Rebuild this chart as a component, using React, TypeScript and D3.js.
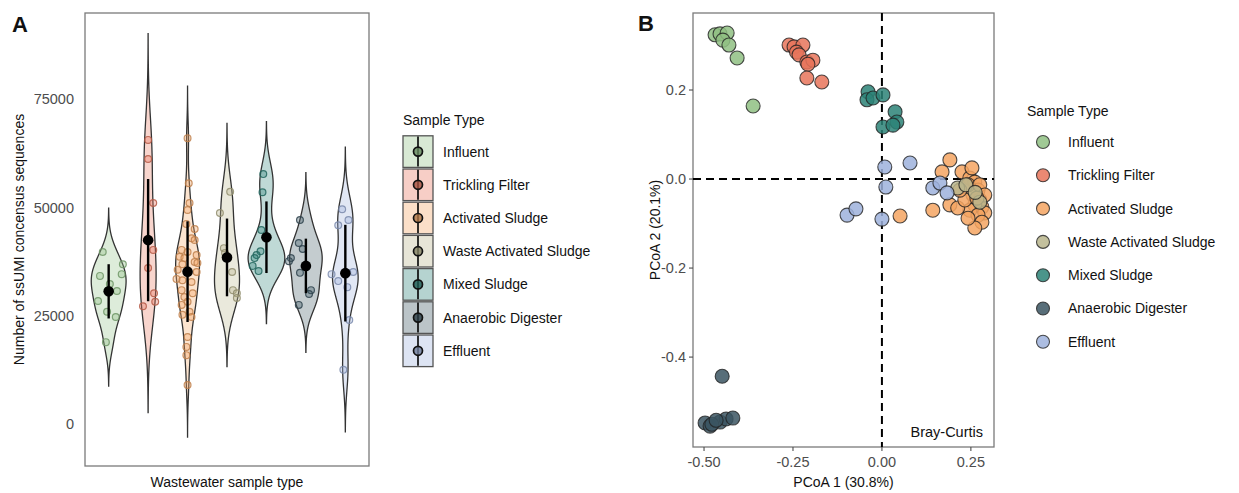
import React from "react";
import * as d3 from "d3";

const W = 1239;
const H = 493;
const FONT = "'Liberation Sans', Arial, Helvetica, sans-serif";

const sampleTypes = [
  "Influent",
  "Trickling Filter",
  "Activated Sludge",
  "Waste Activated Sludge",
  "Mixed Sludge",
  "Anaerobic Digester",
  "Effluent",
];
const typeColors = ["#8fbf83", "#e8745b", "#f4a461", "#b9b58c", "#2b8277", "#3b5561", "#9db1dc"];

// panel A: ssUMI consensus reads per sample, and horizontal jitter (category units)
const influentReads = [39700, 36900, 34200, 34600, 32300, 30700, 28400, 25900, 24700, 18900];
const influentJitter = [-0.15, 0.36, -0.22, 0.33, 0.03, 0.21, -0.27, -0.04, 0.18, -0.07];
const tricklingReads = [65600, 61200, 51000, 42500, 40200, 36000, 30200, 28200, 27200];
const tricklingJitter = [0, 0, 0.13, 0.02, 0.13, 0, 0.15, 0.18, -0.13];
const activatedReads = [
  66000, 55600, 51000, 49400, 46200, 45000, 42900, 42500, 40200, 39700, 39000, 38600, 38300,
  37400, 37200, 36900, 35600, 35100, 33500, 33200, 32800, 30900, 30200, 29300, 28200, 27500,
  25900, 25200, 24700, 20100, 17800, 15900, 9000,
];
const activatedJitter = [
  0, 0.03, 0.05, 0, -0.03, 0.18, 0.1, 0.18, -0.15, 0, 0.23, -0.2, -0.08, 0.18, 0.25, -0.13,
  -0.25, 0.23, -0.28, -0.13, 0.1, -0.15, 0.13, -0.08, 0, -0.15, 0.05, -0.13, 0.1, 0, -0.03,
  -0.03, 0,
];
const wasteReads = [53600, 48700, 40600, 39500, 35100, 30900, 30200, 29100];
const wasteJitter = [0.08, -0.18, -0.08, -0.05, 0.13, 0.15, 0.25, 0.25];
const mixedReads = [57700, 53500, 44800, 39900, 39000, 38300, 36500, 35300];
const mixedJitter = [-0.08, -0.1, -0.13, -0.15, -0.25, -0.3, -0.35, -0.2];
const anaerobicReads = [47100, 41800, 40400, 38300, 37600, 34900, 30900, 30000, 27500];
const anaerobicJitter = [-0.15, -0.18, -0.08, -0.38, -0.43, -0.15, 0.13, 0.08, -0.18];
const effluentReads = [49600, 47100, 45900, 35100, 34900, 34600, 33000, 31600, 24000, 12500];
const effluentJitter = [-0.08, 0.08, -0.18, 0.2, 0.05, -0.35, -0.18, 0.05, 0.1, -0.05];

const readsByType = [influentReads, tricklingReads, activatedReads, wasteReads, mixedReads, anaerobicReads, effluentReads];
const jitterByType = [influentJitter, tricklingJitter, activatedJitter, wasteJitter, mixedJitter, anaerobicJitter, effluentJitter];

const yTicksA = [0, 25000, 50000, 75000];

// panel B: PCoA coordinates (Bray-Curtis)
const pcoaInfluent = [[-0.469, 0.324], [-0.455, 0.326], [-0.435, 0.328], [-0.447, 0.312], [-0.43, 0.301], [-0.407, 0.272], [-0.362, 0.164]];
const pcoaTrickling = [[-0.261, 0.301], [-0.247, 0.297], [-0.222, 0.301], [-0.24, 0.285], [-0.233, 0.279], [-0.211, 0.263], [-0.194, 0.267], [-0.208, 0.258], [-0.211, 0.227], [-0.169, 0.218]];
const pcoaActivated = [
  [0.191, 0.043], [0.169, 0.016], [0.225, 0.016], [0.247, 0.002], [0.261, -0.007], [0.27, -0.025],
  [0.256, -0.036], [0.242, -0.013], [0.275, -0.047], [0.281, -0.063], [0.261, -0.058], [0.247, -0.07],
  [0.289, -0.076], [0.27, -0.081], [0.281, -0.097], [0.261, -0.11], [0.191, -0.058], [0.213, -0.065],
  [0.143, -0.07], [0.051, -0.083], [0.233, -0.047], [0.253, 0.025], [0.275, -0.013], [0.289, -0.036],
  [0.219, -0.025], [0.267, -0.043], [0.242, -0.088],
];
const pcoaWaste = [[0.213, -0.02], [0.275, -0.052], [0.236, -0.013], [0.262, -0.03]];
const pcoaMixed = [[-0.039, 0.196], [-0.042, 0.178], [-0.025, 0.182], [0.003, 0.189], [0.037, 0.151], [0.042, 0.128], [0.003, 0.117], [0.031, 0.121]];
const pcoaAnaerobic = [[-0.449, -0.443], [-0.497, -0.548], [-0.483, -0.555], [-0.455, -0.546], [-0.438, -0.539], [-0.419, -0.537], [-0.478, -0.551], [-0.466, -0.542]];
const pcoaEffluent = [[0.008, 0.027], [0.079, 0.036], [0.011, -0.018], [-0.098, -0.081], [-0.073, -0.067], [0.0, -0.09], [0.143, -0.02], [0.163, -0.009], [0.183, -0.031]];

const pcoaByType = [pcoaInfluent, pcoaTrickling, pcoaActivated, pcoaWaste, pcoaMixed, pcoaAnaerobic, pcoaEffluent];
const pcoaDrawOrder = [2, 3, 6, 0, 1, 4, 5];

const xTicksB = [-0.5, -0.25, 0, 0.25];
const yTicksB = [-0.4, -0.2, 0, 0.2];

// ggplot-style violin: gaussian kde, bw.nrd0, cut = 3
function bwNrd0(v: number[]) {
  const s = [...v].sort(d3.ascending);
  const iqr = (d3.quantileSorted(s, 0.75) as number) - (d3.quantileSorted(s, 0.25) as number);
  return 0.9 * Math.min(d3.deviation(v) as number, iqr / 1.34) * Math.pow(v.length, -0.2);
}
function kde(v: number[]) {
  const bw = bwNrd0(v);
  const lo = (d3.min(v) as number) - 3 * bw;
  const hi = (d3.max(v) as number) + 3 * bw;
  return d3.range(512).map((i) => {
    const y = lo + ((hi - lo) * i) / 511;
    const d = (d3.mean(v, (x) => Math.exp(-0.5 * ((y - x) / bw) ** 2)) as number) / (bw * Math.sqrt(2 * Math.PI));
    return { y, d };
  });
}

const axisGrey = "#4d4d4d";
const frame = "#7a7a7a";

const ViolinPanel = () => {
  const left = 85, right = 369, top = 13, bottom = 466;
  const x = d3.scalePoint<string>().domain(sampleTypes).range([left, right]).padding(0.6);
  const y = d3.scaleLinear().domain([-9700, 94900]).range([bottom, top]);
  const step = x.step();
  const dens = readsByType.map(kde);
  const maxD = d3.max(dens, (g) => d3.max(g, (p) => p.d)) as number;
  const half = (0.93 * step) / 2;

  return (
    <g>
      <rect x={left} y={top} width={right - left} height={bottom - top} fill="white" stroke={frame} strokeWidth={1.3} />
      {sampleTypes.map((t, i) => {
        const cx = x(t) as number;
        const area = d3
          .area<{ y: number; d: number }>()
          .y((p) => y(p.y))
          .x0((p) => cx - (p.d / maxD) * half)
          .x1((p) => cx + (p.d / maxD) * half);
        return (
          <path key={t} d={area(dens[i]) as string} fill={typeColors[i]} fillOpacity={0.3} stroke="#333" strokeWidth={1.3} />
        );
      })}
      {sampleTypes.map((t, i) => {
        const cx = x(t) as number;
        const c = typeColors[i];
        return (
          <g key={t}>
            {readsByType[i].map((v, j) => (
              <circle
                key={j}
                cx={cx + jitterByType[i][j] * step}
                cy={y(v)}
                r={3.4}
                fill={c}
                fillOpacity={0.35}
                stroke={d3.color(c)!.darker(0.7).formatHex()}
                strokeOpacity={0.85}
                strokeWidth={1.2}
              />
            ))}
          </g>
        );
      })}
      {sampleTypes.map((t, i) => {
        const cx = x(t) as number;
        const m = d3.mean(readsByType[i]) as number;
        const s = d3.deviation(readsByType[i]) as number;
        return (
          <g key={t}>
            <line x1={cx} x2={cx} y1={y(m - s)} y2={y(m + s)} stroke="black" strokeWidth={2.4} />
            <circle cx={cx} cy={y(m)} r={5.3} fill="black" />
          </g>
        );
      })}
      {yTicksA.map((v) => (
        <text key={v} x={left - 11} y={y(v)} dy="0.35em" textAnchor="end" fontSize={14.5} fill={axisGrey}>
          {v}
        </text>
      ))}
      <text transform={`translate(19,${(top + bottom) / 2}) rotate(-90)`} textAnchor="middle" dy="0.35em" fontSize={14} fill="#111">
        Number of ssUMI concensus sequences
      </text>
      <text x={(left + right) / 2} y={487} textAnchor="middle" fontSize={14} fill="#111">
        Wastewater sample type
      </text>
      <text x={12} y={32} fontSize={22} fontWeight="bold" fill="#111">A</text>

      {/* legend */}
      <text x={403} y={120} dy="0.35em" fontSize={14} fill="#111">Sample Type</text>
      {sampleTypes.map((t, i) => {
        const ky = 135 + i * 33.2;
        const c = typeColors[i];
        return (
          <g key={t}>
            <rect x={403} y={ky + 0.8} width={30} height={31.6} fill="white" />
            <rect x={403} y={ky + 0.8} width={30} height={31.6} fill={c} fillOpacity={0.35} stroke="#555" strokeWidth={1.3} />
            <line x1={418} x2={418} y1={ky + 1.5} y2={ky + 31.5} stroke="black" strokeWidth={1.6} />
            <circle cx={418} cy={ky + 16.6} r={4.5} fill={d3.color(c)!.darker(1).formatHex()} fillOpacity={0.8} stroke="#111" strokeWidth={1.7} />
            <text x={443} y={ky + 16.6} dy="0.35em" fontSize={14} fill="#111">{t}</text>
          </g>
        );
      })}
    </g>
  );
};

const PcoaPanel = () => {
  const left = 693, right = 994, top = 13, bottom = 447;
  const x = d3.scaleLinear().domain([-0.531, 0.315]).range([left, right]);
  const y = d3.scaleLinear().domain([-0.602, 0.373]).range([bottom, top]);
  return (
    <g>
      <rect x={left} y={top} width={right - left} height={bottom - top} fill="white" stroke={frame} strokeWidth={1.3} />
      <line x1={x(0)} x2={x(0)} y1={top} y2={bottom} stroke="black" strokeWidth={2} strokeDasharray="8,5" />
      <line x1={left} x2={right} y1={y(0)} y2={y(0)} stroke="black" strokeWidth={2} strokeDasharray="8,5" />
      {pcoaDrawOrder.map((i) => (
        <g key={i}>
          {pcoaByType[i].map((p, j) => (
            <circle
              key={j}
              cx={x(p[0])}
              cy={y(p[1])}
              r={7}
              fill={typeColors[i]}
              fillOpacity={0.85}
              stroke="#222"
              strokeOpacity={0.8}
              strokeWidth={1.1}
            />
          ))}
        </g>
      ))}
      <text x={983} y={432} dy="0.35em" textAnchor="end" fontSize={14.5} fill="#111">Bray-Curtis</text>
      {xTicksB.map((v) => (
        <g key={v}>
          <line x1={x(v)} x2={x(v)} y1={bottom} y2={bottom + 4} stroke={axisGrey} strokeWidth={1.1} />
          <text x={x(v)} y={bottom + 15} dy="0.35em" textAnchor="middle" fontSize={14.5} fill={axisGrey}>
            {d3.format(".2f")(v).replace("−", "-")}
          </text>
        </g>
      ))}
      {yTicksB.map((v) => (
        <g key={v}>
          <line x1={left - 4} x2={left} y1={y(v)} y2={y(v)} stroke={axisGrey} strokeWidth={1.1} />
          <text x={left - 7} y={y(v)} dy="0.35em" textAnchor="end" fontSize={14.5} fill={axisGrey}>
            {d3.format(".1f")(v).replace("−", "-")}
          </text>
        </g>
      ))}
      <text x={(left + right) / 2} y={487} textAnchor="middle" fontSize={14} fill="#111">PCoA 1 (30.8%)</text>
      <text transform={`translate(655,${(top + bottom) / 2}) rotate(-90)`} textAnchor="middle" dy="0.35em" fontSize={14} fill="#111">
        PCoA 2 (20.1%)
      </text>
      <text x={638} y={31} fontSize={22} fontWeight="bold" fill="#111">B</text>

      {/* legend */}
      <text x={1027} y={111} dy="0.35em" fontSize={14} fill="#111">Sample Type</text>
      {sampleTypes.map((t, i) => {
        const ky = 142 + i * 33.3;
        return (
          <g key={t}>
            <circle cx={1043} cy={ky} r={6.5} fill={typeColors[i]} fillOpacity={0.85} stroke="#222" strokeOpacity={0.8} strokeWidth={1.1} />
            <text x={1068} y={ky} dy="0.35em" fontSize={14} fill="#111">{t}</text>
          </g>
        );
      })}
    </g>
  );
};

export default function App() {
  return (
    <svg
      width={W}
      height={H}
      style={{ position: "absolute", left: 0, top: 0, background: "white", fontFamily: FONT }}
    >
      <rect width={W} height={H} fill="white" />
      <ViolinPanel />
      <PcoaPanel />
    </svg>
  );
}
